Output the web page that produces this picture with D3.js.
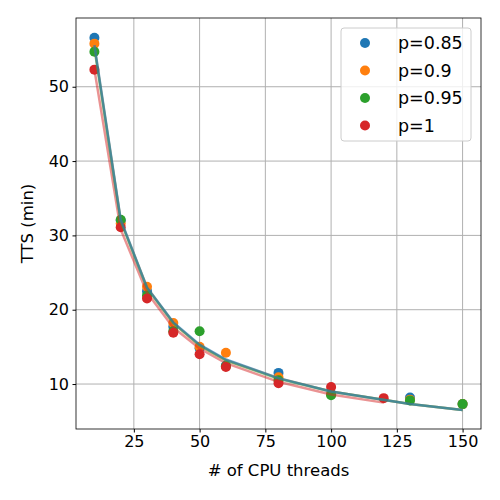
<!DOCTYPE html>
<html><head><meta charset="utf-8">
<script src="https://cdn.jsdelivr.net/npm/d3@7"></script>
<style>body{margin:0;background:#fff}</style>
</head><body>
<svg id="chart" width="500" height="500"></svg>
<script>
const labels = ["p=0.85", "p=0.9", "p=0.95", "p=1"];
const colors = ["#1f77b4", "#ff7f0e", "#2ca02c", "#d62728"];
const xs = [10, 20, 30, 40, 50, 60, 80, 100, 130, 150];
const xsRed = [10, 20, 30, 40, 50, 60, 80, 100, 120];
const yBlue = [56.6, 32.0, 22.5, 17.7, 14.8, 12.5, 11.5, 8.7, 8.2, 7.3];
const yOrange = [55.8, 31.6, 23.1, 18.2, 15.0, 14.2, 10.9, 8.6, 7.9, 7.3];
const yGreen = [54.7, 32.1, 21.9, 17.1, 17.1, 12.4, 10.5, 8.5, 7.8, 7.3];
const yRed = [52.3, 31.1, 21.5, 16.9, 14.0, 12.3, 10.1, 9.6, 8.1];
const fitBlue = [55.6, 32.1, 23.0, 18.3, 15.3, 13.3, 10.8, 9.0, 7.3, 6.5];
const fitOrange = [55.4, 32.0, 23.0, 18.2, 15.2, 13.2, 10.8, 9.0, 7.3, 6.5];
const fitGreen = [55.2, 31.9, 22.9, 18.2, 15.2, 13.2, 10.7, 9.0, 7.3, 6.5];
const fitRed = [52.3, 30.8, 22.3, 17.6, 14.8, 12.8, 10.3, 8.6, 7.5];
const xTicks = [25, 50, 75, 100, 125, 150];
const yTicks = [10, 20, 30, 40, 50];

const series = [
  {x: xs, y: yBlue, fit: fitBlue},
  {x: xs, y: yOrange, fit: fitOrange},
  {x: xs, y: yGreen, fit: fitGreen},
  {x: xsRed, y: yRed, fit: fitRed}
];

const m = {l: 76, r: 19, t: 18, b: 71};
const W = 500, H = 500;
const svg = d3.select("#chart");
const x = d3.scaleLinear().domain([3, 157]).range([m.l, W - m.r]);
const y = d3.scaleLinear().domain([3.95, 59.25]).range([H - m.b, m.t]);
const font = "DejaVu Sans";

// grid
svg.append("g").selectAll("line").data(xTicks).join("line")
  .attr("x1", d => x(d)).attr("x2", d => x(d)).attr("y1", m.t).attr("y2", H - m.b)
  .attr("stroke", "#b0b0b0").attr("stroke-width", 1);
svg.append("g").selectAll("line").data(yTicks).join("line")
  .attr("y1", d => y(d)).attr("y2", d => y(d)).attr("x1", m.l).attr("x2", W - m.r)
  .attr("stroke", "#b0b0b0").attr("stroke-width", 1);

series.forEach((s, i) => {
  svg.append("g").selectAll("circle").data(s.x.map((v, j) => [v, s.y[j]])).join("circle")
    .attr("cx", d => x(d[0])).attr("cy", d => y(d[1])).attr("r", 5).attr("fill", colors[i]);
});

const line = d3.line().x(d => x(d[0])).y(d => y(d[1]));
const fitOrder = [3, 1, 2, 0];
fitOrder.forEach(i => {
  const s = series[i];
  svg.append("path").datum(s.x.map((v, j) => [v, s.fit[j]]))
    .attr("d", line).attr("fill", "none").attr("stroke", colors[i])
    .attr("stroke-opacity", i === 0 ? 0.65 : 0.5).attr("stroke-width", 2.5);
});

const gx = svg.append("g").attr("transform", `translate(0,${H - m.b})`)
  .call(d3.axisBottom(x).tickValues(xTicks).tickSize(3.5).tickPadding(3.5));
const gy = svg.append("g").attr("transform", `translate(${m.l},0)`)
  .call(d3.axisLeft(y).tickValues(yTicks).tickSize(3.5).tickPadding(3.5));
[gx, gy].forEach(g => {
  g.selectAll("text").attr("font-family", font).attr("font-size", 16).attr("fill", "#000");
  g.select(".domain").remove();
});
svg.append("rect").attr("x", m.l).attr("y", m.t).attr("width", W - m.l - m.r)
  .attr("height", H - m.t - m.b).attr("fill", "none").attr("stroke", "#000").attr("stroke-width", 0.8);

svg.append("text").attr("x", (m.l + W - m.r) / 2).attr("y", 476).attr("text-anchor", "middle")
  .attr("font-family", font).attr("font-size", 16.5).text("# of CPU threads");
svg.append("text").attr("transform", `translate(33,${(m.t + H - m.b) / 2}) rotate(-90)`)
  .attr("text-anchor", "middle").attr("font-family", font).attr("font-size", 16.5).text("TTS (min)");

// legend
const lg = svg.append("g").attr("transform", "translate(341,28)");
lg.append("rect").attr("width", 130).attr("height", 113).attr("rx", 3)
  .attr("fill", "#fff").attr("fill-opacity", 0.8).attr("stroke", "#ccc");
labels.forEach((t, i) => {
  lg.append("circle").attr("cx", 24).attr("cy", 15 + i * 27.5).attr("r", 5).attr("fill", colors[i]);
  lg.append("text").attr("x", 57).attr("y", 21 + i * 27.5).attr("font-family", font)
    .attr("font-size", 17.5).text(t);
});
</script>
</body></html>
